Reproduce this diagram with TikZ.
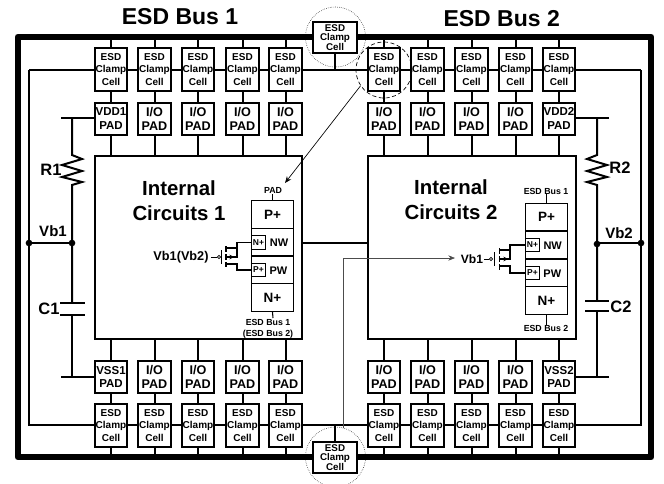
\documentclass[tikz,border=0pt]{standalone}
\usepackage{fontspec}
\setmainfont{Liberation Sans}
\usetikzlibrary{arrows.meta}
\newcommand{\fsz}[1]{\bfseries\pgfmathsetmacro{\myfs}{#1*0.75}\fontsize{\myfs pt}{\myfs pt}\selectfont}
\tikzset{
 x=0.75pt,y=-0.75pt,
 wire/.style={line width=1.5pt,line cap=butt},
 thinw/.style={line width=0.8pt},
 cellbox/.style={draw,line width=1.5pt,fill=white,rectangle,minimum width=24.5pt,minimum height=32pt,inner sep=0,align=center,font=\fsz{10}},
 padbox/.style={draw,line width=1.5pt,fill=white,rectangle,minimum width=24.5pt,minimum height=24pt,inner sep=0,align=center,font=\fsz{12.6}},
 vpadbox/.style={padbox,font=\fsz{11.5}},
 lab/.style={inner sep=0,font=\fsz{16.5}},
 dotn/.style={circle,fill,inner sep=0,minimum size=5pt},
 ptr/.style={line width=0.5pt,-{Stealth[length=5pt,width=4pt]}},
 tiny/.style={inner sep=0,font=\fsz{8.8},align=center},
 dev/.style={draw,line width=0.9pt,fill=white,inner sep=0,minimum width=32pt,minimum height=20.8pt,font=\fsz{13.5}},
 small/.style={draw,line width=0.9pt,fill=white,inner sep=0,minimum width=11pt,minimum height=10pt,font=\fsz{8.5}},
}
\begin{document}
\begin{tikzpicture}
\useasboundingbox (0,0) rectangle (664,483);
% frame
\draw[line width=5.2pt,line join=round] (18,37) rectangle (651,457);
% titles
\node[inner sep=0,font=\fsz{23}] (t1) at (180,17) {ESD Bus 1};
\node[inner sep=0,font=\fsz{23}] (t2) at (501.7,18.5) {ESD Bus 2};
% internal blocks
\node[draw,line width=1.5pt,minimum width=155.5pt,minimum height=137pt,inner sep=0] (ic1) at (198.25,247.5) {};
\node[draw,line width=1.5pt,minimum width=156pt,minimum height=137pt,inner sep=0] (ic2) at (472,247.5) {};
\draw[wire] (ic1.east |- 0,243) -- (ic2.west |- 0,243);
% cells and pads
\foreach \i/\cx in {1/111,2/154.5,3/198,4/242.5,5/285.5,6/384,7/427.5,8/471.5,9/515.5,10/559}{
 \coordinate (ct\i) at (\cx,37);
 \coordinate (cb\i) at (\cx,457);
 \coordinate (ict\i) at (\cx,156);
 \coordinate (icb\i) at (\cx,339);
 \draw[wire] (ct\i) -- (ict\i);
 \draw[wire] (icb\i) -- (cb\i);
 \node[cellbox] (tc\i) at (\cx,69.5) {ESD\\[2pt]Clamp\\[2pt]Cell};
 \node[cellbox] (bc\i) at (\cx,425.5) {ESD\\[2pt]Clamp\\[2pt]Cell};
}
\foreach \i/\cx in {2/154.5,3/198,4/242.5,5/285.5,6/384,7/427.5,8/471.5,9/515.5}{
 \node[padbox] (tp\i) at (\cx,118.5) {I/O\\[1pt]PAD};
 \node[padbox] (bp\i) at (\cx,377) {I/O\\[1pt]PAD};
}
\node[vpadbox] (tp1) at (111,118.5) {VDD1\\[1.5pt]PAD};
\node[vpadbox] (tp10) at (559,118.5) {VDD2\\[1.5pt]PAD};
\node[vpadbox] (bp1) at (111,377) {VSS1\\[1.5pt]PAD};
\node[vpadbox] (bp10) at (559,377) {VSS2\\[1.5pt]PAD};
% clamp rails
\coordinate (la) at (29,70); \coordinate (lb) at (29,425);
\coordinate (ra) at (641,70); \coordinate (rb) at (641,425);
\coordinate (vl) at (29,243); \coordinate (vr) at (641,243);
\draw[wire] (la) -- (lb) -- (bc1.west |- lb);
\draw[wire] (la) -- (tc1.west |- la);
\draw[wire] (ra) -- (rb) -- (bc10.east |- rb);
\draw[wire] (ra) -- (tc10.east |- ra);
\foreach \a/\b in {1/2,2/3,3/4,4/5,5/6,6/7,7/8,8/9,9/10}{
 \draw[wire] (tc\a.east |- la) -- (tc\b.west |- la);
 \draw[wire] (bc\a.east |- lb) -- (bc\b.west |- lb);
}
% centre clamp cells
\draw[wire] (335,70) -- (335,53);
\draw[wire] (335,425) -- (335,442);
\node[cellbox,minimum width=32.5pt,minimum height=23.5pt,font=\fsz{9.8}] (tcc) at (335,37.5) {ESD\\[-0.5pt]Clamp\\[-0.5pt]Cell};
\node[cellbox,minimum width=32.5pt,minimum height=23.5pt,font=\fsz{9.8}] (bcc) at (335,457.5) {ESD\\[-0.5pt]Clamp\\[-0.5pt]Cell};
\node[circle,draw,densely dotted,line width=0.4pt,minimum size=45pt,inner sep=0] (dc1) at (335.5,37) {};
\node[circle,draw,densely dotted,line width=0.4pt,minimum size=45pt,inner sep=0] (dc2) at (335.5,457) {};
\node[circle,draw,dash pattern=on 3pt off 2pt,line width=0.5pt,minimum size=42pt,inner sep=0] (dc3) at (384,70) {};
% R and C
\coordinate (pl1) at (61,118); \coordinate (pl2) at (61,377);
\coordinate (pr1) at (609,118); \coordinate (pr2) at (609,377);
\draw[wire] (pl1) -- (tp1.west |- pl1);
\draw[wire] (pl2) -- (bp1.west |- pl2);
\draw[wire] (pr1) -- (tp10.east |- pr1);
\draw[wire] (pr2) -- (bp10.east |- pr2);
\draw[wire,line join=miter] (72,118) -- (72,155) -- (82,159) -- (62,165) -- (82,171) -- (62,177) -- (82,182) -- (72,185) -- (72,303);
\draw[wire] (60,303) -- (85,303) (60,315) -- (85,315);
\draw[wire] (72,315) -- (72,377);
\draw[wire] (vl) -- (72,243);
\draw[wire,line join=miter] (597,118) -- (597,155) -- (587,159) -- (607,165) -- (587,171) -- (607,177) -- (587,182) -- (597,185) -- (597,301);
\draw[wire] (585,301) -- (609,301) (585,311) -- (609,311);
\draw[wire] (597,311) -- (597,377);
\draw[wire] (vr) -- (597,243);
\node[dotn] (d1) at (vl) {};
\node[dotn] (d2) at (72,243) {};
\node[dotn] (d3) at (597,244) {};
\node[dotn] (d4) at (vr) {};
\node[lab] (r1) at (51,170) {R1};
\node[lab] (r2) at (620,168) {R2};
\node[lab] (c1) at (49,309) {C1};
\node[lab] (c2) at (621,307) {C2};
\node[lab,font=\fsz{15}] (v1) at (53,231) {Vb1};
\node[lab,font=\fsz{15}] (v2) at (619,233) {Vb2};
% internal text
\node[inner sep=0,font=\fsz{20.4}] (i1a) at (179,188) {Internal};
\node[inner sep=0,font=\fsz{20.4}] (i1b) at (179,213) {Circuits 1};
\node[inner sep=0,font=\fsz{20.4}] (i2a) at (451,187) {Internal};
\node[inner sep=0,font=\fsz{20.4}] (i2b) at (451,212) {Circuits 2};
% device columns
\node[dev] (a1) at (272.5,214.7) {P+};
\node[dev] (a2) at (272.5,242.2) {};
\node[dev] (a3) at (272.5,270) {};
\node[dev] (a4) at (272.5,297.7) {N+};
\node[inner sep=0,font=\fsz{11}] at (279,242.5) (nw1) {NW};
\node[inner sep=0,font=\fsz{11}] at (278.5,270.5) (pw1) {PW};
\node[small] (sn1) at (258.5,242.5) {N+};
\node[small] (sp1) at (258.5,270) {P+};
\node[dev] (b1) at (546.5,217) {P+};
\node[dev] (b2) at (546.5,245) {};
\node[dev] (b3) at (546.5,273) {};
\node[dev] (b4) at (546.5,300.5) {N+};
\node[inner sep=0,font=\fsz{11}] at (552.7,245.5) (nw2) {NW};
\node[inner sep=0,font=\fsz{11}] at (552.3,273.5) (pw2) {PW};
\node[small] (sn2) at (532.5,245) {N+};
\node[small] (sp2) at (532.5,273) {P+};
% small labels
\node[tiny] (l1) at (273,190.5) {PAD};
\node[tiny] (l2) at (268,328.5) {ESD Bus 1\\[1.5pt](ESD Bus 2)};
\node[tiny] (l3) at (546,191) {ESD Bus 1};
\node[tiny] (l4) at (546,328) {ESD Bus 2};
\draw[thinw] (a1.north) -- (l1.south -| a1.north);
\draw[thinw] (a4.south) -- (273,318);
\draw[thinw] (b1.north) -- (l3.south -| b1.north);
\draw[thinw] (b4.south) -- (l4.north -| b4.south);
% MOS 1
\node[inner sep=0,font=\fsz{12.7}] (g1) at (181,257) {Vb1(Vb2)};
\node[circle,draw,line width=0.5pt,inner sep=0,minimum size=2.4pt] (bub1) at (219,257) {};
\draw[line width=0.6pt] (g1.east) ++(2,0) -- (bub1.west);
\draw[line width=0.9pt] (221.7,250) -- (221.7,264);
\draw[line width=0.9pt] (226,246) -- (226,252) (226,254) -- (226,260) (226,262) -- (226,267);
\draw[line width=0.9pt] (226,248) -- (237,248) -- (237,242.5) -- (sn1.west |- 0,242.5);
\draw[line width=0.9pt] (226,264) -- (237,264) -- (237,270) -- (sp1.west);
\draw[line width=0.9pt] (237,248) -- (237,257) -- (232,257);
\draw[line width=0.9pt,-{Stealth[length=3.5pt,width=3.5pt]}] (226,257) -- (234,257);
% MOS 2
\node[inner sep=0,font=\fsz{12.1}] (g2) at (472,259) {Vb1};
\node[circle,draw,line width=0.5pt,inner sep=0,minimum size=2.4pt] (bub2) at (491,259) {};
\draw[line width=0.6pt] (g2.east) ++(1,0) -- (bub2.west);
\draw[line width=0.9pt] (494.5,252) -- (494.5,266);
\draw[line width=0.9pt] (499.5,248) -- (499.5,254) (499.5,256) -- (499.5,262) (499.5,264) -- (499.5,270);
\draw[line width=0.9pt] (499.5,250) -- (510,250) -- (510,245) -- (sn2.west);
\draw[line width=0.9pt] (499.5,266) -- (510,266) -- (510,273) -- (sp2.west);
\draw[line width=0.9pt] (510,250) -- (510,259) -- (505,259);
\draw[line width=0.9pt,-{Stealth[length=3.5pt,width=3.5pt]}] (499.5,259) -- (508,259);
% pointers
\coordinate (pa) at (285,183);
\coordinate (pb) at (343,428);
\coordinate (pc) at (343,258);
\coordinate (pd) at (455,258);
\draw[ptr] (dc3.214) -- (pa);
\draw[ptr,black!70] (pb) -- (pc) -- (pd);
\end{tikzpicture}
\end{document}
